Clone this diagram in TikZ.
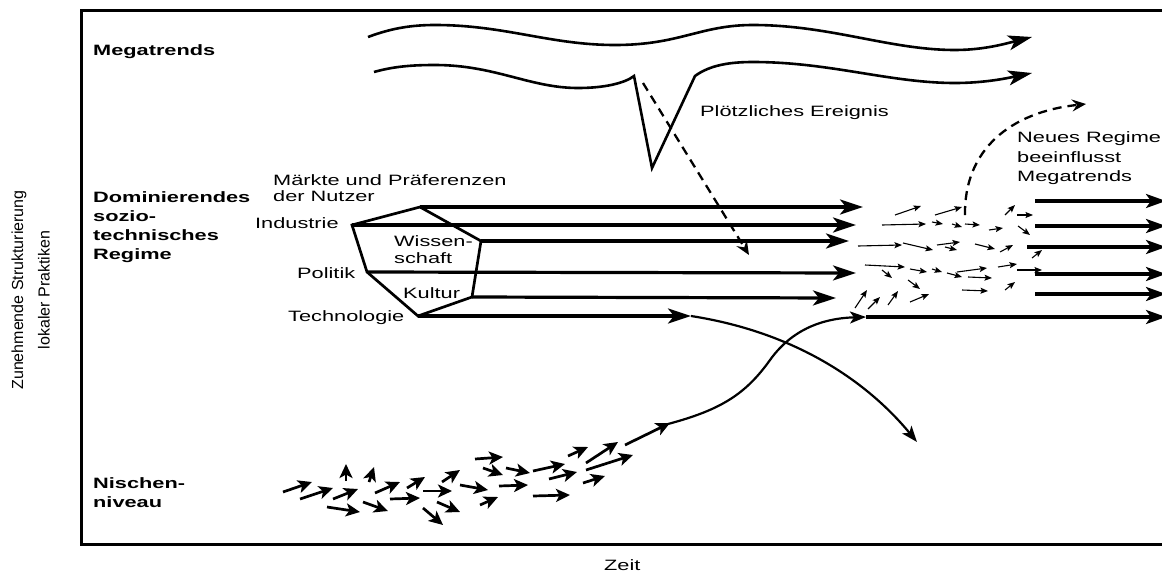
\documentclass[tikz,border=0pt]{standalone}
\usepackage{fontspec}
\setmainfont[FakeStretch=1.45]{Liberation Sans}
\newfontfamily\rotfont{Liberation Sans}
\usetikzlibrary{arrows.meta}
\begin{document}
\begin{tikzpicture}[x=1pt,y=-1pt,
  lbl/.style={anchor=base west,inner sep=0pt,font=\fontsize{15}{18}\selectfont},
  blbl/.style={anchor=base west,inner sep=0pt,font=\fontsize{15}{18}\selectfont\bfseries},
  rotlbl/.style={anchor=center,inner sep=0pt,rotate=90,font=\rotfont\fontsize{16}{18}\selectfont},
  frame/.style={line width=3pt},
  wave/.style={line width=2.6pt,-{Stealth[length=24pt,width=15pt,inset=6pt]}},
  regime/.style={line width=3.2pt,-{Stealth[length=23pt,width=15pt,inset=6pt]}},
  poly/.style={line width=2.7pt,line join=miter},
  rightline/.style={line width=3.2pt,-{Stealth[length=20pt,width=14pt,inset=5pt]}},
  curvearrow/.style={line width=2.2pt,-{Stealth[length=16pt,width=12pt,inset=4pt]}},
  dashedarrow/.style={line width=2.3pt,dash pattern=on 9pt off 6pt,-{Stealth[length=14pt,width=12pt,inset=5pt]}},
  smallarr/.style={line width=1.1pt,-{Stealth[length=7.5pt,width=6pt,inset=1.5pt]}},
  nichearr/.style={line width=2.7pt,-{Stealth[length=14pt,width=13pt,inset=3.5pt]}}
]
\useasboundingbox (0,0) rectangle (1162,573);
\clip (0,0) rectangle (1162,573);

% frame
\coordinate (ftl) at (81,10);
\coordinate (fbl) at (81,544);
\coordinate (ftr) at (1170,10);
\coordinate (fbr) at (1170,544);
\draw[frame] (ftr) -- (ftl) -- (fbl) -- (fbr);

% axis labels
\node[rotlbl] (ax1) at (19,290) {Zunehmende Strukturierung};
\node[rotlbl] (ax2) at (44,290) {lokaler Praktiken};
\node[lbl] (zeit) at (604,570) {Zeit};

% level labels
\node[blbl] (mega) at (93,55) {Megatrends};
\node[blbl] (dom1) at (93,202) {Dominierendes};
\node[blbl] (dom2) at (93,221) {sozio-};
\node[blbl] (dom3) at (93,240) {technisches};
\node[blbl] (dom4) at (93,259) {Regime};
\node[blbl] (nis1) at (93,488) {Nischen-};
\node[blbl] (nis2) at (93,507) {niveau};

% megatrend waves
\coordinate (w1s) at (368,37);
\coordinate (w1e) at (1032,37);
\draw[wave] (w1s) .. controls (392,28) and (412,25) .. (435,25)
  .. controls (505,25) and (550,45) .. (615,45)
  .. controls (680,45) and (700,25) .. (753,25)
  .. controls (830,25) and (890,50) .. (955,50)
  .. controls (985,50) and (1008,43) .. (w1e);
\coordinate (w2s) at (374,72);
\coordinate (vl) at (634,76);
\coordinate (vb) at (652,168);
\coordinate (vr) at (695,76);
\coordinate (w2e) at (1032,73);
\draw[wave] (w2s) .. controls (395,66) and (415,65) .. (435,65)
  .. controls (495,65) and (530,88) .. (578,88)
  .. controls (605,88) and (625,83) .. (vl) -- (vb) -- (vr)
  .. controls (710,65) and (730,62) .. (753,62)
  .. controls (830,62) and (890,83) .. (955,83)
  .. controls (985,83) and (1008,78) .. (w2e);

\node[lbl] (event) at (700,116) {Plötzliches Ereignis};
\coordinate (ds) at (643,83);
\coordinate (de) at (749,255);
\draw[dashedarrow] (ds) -- (de);

% regime polygon
\coordinate (pT) at (420,207);
\coordinate (pI) at (352,225);
\coordinate (pP) at (367,272);
\coordinate (pB) at (418,316);
\coordinate (pK) at (472,297);
\coordinate (pW) at (481,241);
\draw[poly] (pT) -- (pI) -- (pP) -- (pB) -- (pK) -- (pW) -- cycle;

\coordinate (eT) at (863,207);
\coordinate (eI) at (856,225);
\coordinate (eW) at (849,241);
\coordinate (eP) at (856,273);
\coordinate (eK) at (836,298);
\coordinate (eB) at (691,316);
\draw[regime] (pT) -- (eT);
\draw[regime] (pI) -- (eI);
\draw[regime] (pW) -- (eW);
\draw[regime] (pP) -- (eP);
\draw[regime] (pK) -- (eK);
\draw[regime] (pB) -- (eB);

\node[lbl] (mk1) at (273,185) {Märkte und Präferenzen};
\node[lbl] (mk2) at (273,201) {der Nutzer};
\node[lbl] (ind) at (255,228) {Industrie};
\node[lbl] (wis1) at (394,246) {Wissen-};
\node[lbl] (wis2) at (394,263) {schaft};
\node[lbl] (pol) at (297,278) {Politik};
\node[lbl] (kul) at (403,298) {Kultur};
\node[lbl] (tec) at (288,321) {Technologie};

% technology curve down
\coordinate (tc) at (917,442);
\draw[curvearrow] (eB) .. controls (800,333) and (870,385) .. (tc);

% niche curve up
\coordinate (ns) at (668,424);
\coordinate (nm) at (770,360);
\coordinate (ne) at (866,317);
\draw[curvearrow] (ns) .. controls (720,410) and (745,395) .. (nm)
  .. controls (795,325) and (830,318) .. (ne);

% new regime lines
\coordinate (r1s) at (1035,201); \coordinate (r1e) at (1166,201);
\coordinate (r2s) at (1035,226); \coordinate (r2e) at (1166,226);
\coordinate (r3s) at (1027,247); \coordinate (r3e) at (1166,247);
\coordinate (r4s) at (1035,274); \coordinate (r4e) at (1166,274);
\coordinate (r5s) at (1035,294); \coordinate (r5e) at (1166,294);
\coordinate (r6e) at (1166,317);
\draw[rightline] (r1s) -- (r1e);
\draw[rightline] (r2s) -- (r2e);
\draw[rightline] (r3s) -- (r3e);
\draw[rightline] (r4s) -- (r4e);
\draw[rightline] (r5s) -- (r5e);
\draw[rightline] (ne) -- (r6e);

% new regime influences megatrends
\coordinate (nrs) at (965,215);
\coordinate (nre) at (1086,104);
\draw[dashedarrow] (nrs) .. controls (964,150) and (1010,112) .. (nre);
\node[lbl] (nr1) at (1017,142) {Neues Regime};
\node[lbl] (nr2) at (1017,162) {beeinflusst};
\node[lbl] (nr3) at (1017,181) {Megatrends};

% swarm in transition zone
\foreach \a/\b/\c/\d in {
 895/215/921/206, 935/215/962/207, 882/225/926/224, 932/222/943/224,
 952/224/962/227, 965/224/980/225, 989/230/1003/228, 1005/215/1015/205,
 1017/215/1033/215, 1018/226/1030/235, 858/246/902/245, 903/243/933/250,
 937/245/960/242, 945/247/957/250, 975/244/995/249, 1000/252/1013/245,
 865/265/905/267, 882/270/892/278, 910/269/927/272, 932/269/942/272,
 947/273/962/277, 957/272/987/268, 968/277/992/278, 998/267/1017/264,
 908/280/920/289, 910/302/929/294, 855/308/867/290, 868/309/880/297,
 888/305/898/291, 962/290/988/291, 1005/290/1015/282, 1017/270/1042/270,
 1032/258/1042/250}
 \draw[smallarr] (\a,\b) -- (\c,\d);

% niche swarm
\foreach \a/\b/\c/\d in {
 283/492/312/482, 300/499/333/488, 333/499/358/489, 327/507/360/512,
 346/481/346/464, 369/482/374/467, 363/502/388/511, 375/493/400/482,
 390/499/420/498, 407/488/425/477, 423/491/452/491, 423/508/443/525,
 437/502/460/512, 442/482/460/470, 460/485/488/490, 475/459/503/457,
 483/468/503/475, 480/505/498/497, 499/486/528/485, 506/468/530/473,
 533/471/565/464, 533/496/570/495, 549/479/577/472, 568/456/588/447,
 583/483/605/476, 586/463/618/442, 586/470/633/455, 625/445/670/423}
 \draw[nichearr] (\a,\b) -- (\c,\d);
\end{tikzpicture}
\end{document}
